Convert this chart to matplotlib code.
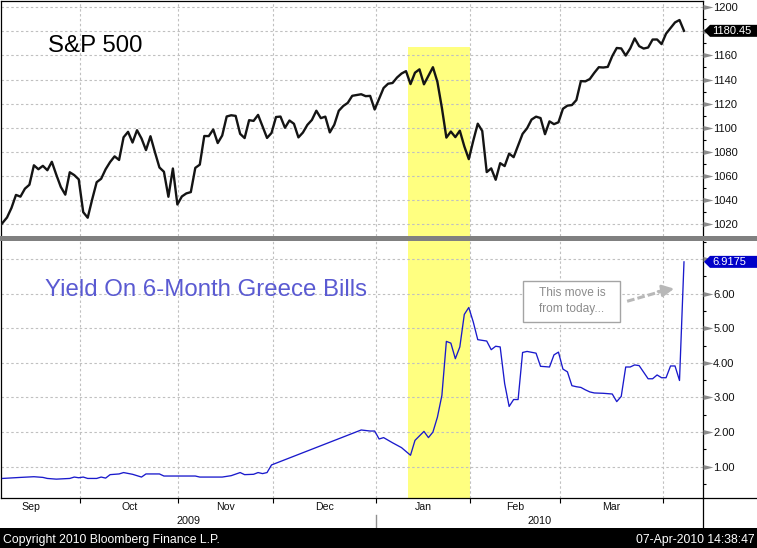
import numpy as np
import pandas as pd
import matplotlib
matplotlib.use("Agg")
import matplotlib.pyplot as plt
from matplotlib.patches import Polygon, Rectangle
from matplotlib.lines import Line2D
from matplotlib.ticker import MultipleLocator, FuncFormatter
from matplotlib.transforms import IdentityTransform

plt.rcParams['font.family'] = ['Liberation Sans', 'DejaVu Sans']

# ---- data -------------------------------------------------------------
BASE_DAY = "2009-09-07"   # first weekday slot on the chart's x axis

US_HOLIDAYS = ["2009-09-07", "2009-11-26", "2009-12-25", "2010-01-01",
               "2010-01-18", "2010-02-15", "2010-04-02"]
sp_dates = pd.bdate_range("2009-09-04", "2010-04-07").drop(pd.to_datetime(US_HOLIDAYS))

sp_close = [
    1016.40,
    # Sep
    1025.39, 1033.37, 1044.14, 1042.73, 1049.34, 1052.63, 1068.76, 1065.49, 1068.30,
    1064.66, 1071.66, 1060.87, 1050.78, 1044.38, 1062.98, 1060.61, 1057.08,
    # Oct
    1029.85, 1025.21, 1040.46, 1054.72, 1057.58, 1065.48, 1071.49, 1076.19, 1073.19,
    1092.02, 1096.56, 1087.68, 1097.91, 1091.06, 1081.40, 1092.91, 1079.60, 1066.95,
    1063.41, 1042.63, 1066.11, 1036.19,
    # Nov
    1042.88, 1045.41, 1046.50, 1066.63, 1069.30, 1093.08, 1093.01, 1098.51, 1087.24,
    1093.48, 1109.30, 1110.32, 1109.80, 1094.90, 1091.38, 1106.24, 1105.65, 1110.63,
    1091.49, 1095.63,
    # Dec
    1108.86, 1109.24, 1099.92, 1105.98, 1103.25, 1091.94, 1095.95, 1102.35, 1106.41,
    1114.11, 1107.93, 1109.18, 1096.08, 1102.47, 1114.05, 1118.02, 1120.59, 1126.48,
    1127.78, 1126.20, 1126.42, 1115.10,
    # Jan
    1132.99, 1136.52, 1137.14, 1141.69, 1144.98, 1146.98, 1136.22, 1145.68, 1148.46,
    1136.03, 1150.23, 1138.04, 1116.48, 1091.76, 1096.78, 1092.17, 1097.50, 1084.53,
    1073.87,
    # Feb
    1089.19, 1103.32, 1097.28, 1063.11, 1066.19, 1056.74, 1070.52, 1068.13, 1078.47,
    1075.51, 1094.87, 1099.51, 1106.75, 1109.17, 1108.01, 1094.60, 1105.24, 1102.94,
    1104.49,
    # Mar
    1115.71, 1118.31, 1118.79, 1122.97, 1138.70, 1138.50, 1140.45, 1145.61, 1150.24,
    1149.99, 1150.51, 1159.46, 1166.21, 1165.83, 1159.90, 1165.81, 1174.17, 1167.72,
    1165.73, 1166.59, 1173.22, 1173.27, 1169.43,
    # Apr
    1178.10, 1187.44, 1189.44, 1180.45,
]

greece_dates = [
    "2009-09-07", "2009-09-11", "2009-09-16", "2009-09-18", "2009-09-21", "2009-09-23",
    "2009-09-28", "2009-09-29", "2009-09-30", "2009-10-01", "2009-10-02", "2009-10-06",
    "2009-10-07", "2009-10-08", "2009-10-09", "2009-10-13", "2009-10-14", "2009-10-16",
    "2009-10-20", "2009-10-21", "2009-10-26", "2009-10-27", "2009-11-05", "2009-11-06",
    "2009-11-13", "2009-11-17", "2009-11-19", "2009-11-20", "2009-11-24", "2009-11-25",
    "2009-11-26", "2009-11-27", "2009-11-30",
    "2009-12-28", "2009-12-30", "2009-12-31", "2010-01-01", "2010-01-04", "2010-01-06",
    "2010-01-08", "2010-01-12", "2010-01-13", "2010-01-15", "2010-01-18", "2010-01-19",
    "2010-01-20", "2010-01-21", "2010-01-22", "2010-01-25", "2010-01-26", "2010-01-27",
    "2010-01-28", "2010-01-29", "2010-02-01", "2010-02-02", "2010-02-04", "2010-02-05",
    "2010-02-08", "2010-02-09", "2010-02-10", "2010-02-11", "2010-02-12", "2010-02-15",
    "2010-02-16", "2010-02-17", "2010-02-19", "2010-02-22", "2010-02-24", "2010-02-25",
    "2010-02-26", "2010-03-01", "2010-03-02", "2010-03-03", "2010-03-04", "2010-03-05",
    "2010-03-08", "2010-03-09", "2010-03-10", "2010-03-12", "2010-03-16", "2010-03-17",
    "2010-03-18", "2010-03-19", "2010-03-22", "2010-03-23", "2010-03-24", "2010-03-26",
    "2010-03-29", "2010-03-30", "2010-03-31", "2010-04-01", "2010-04-02", "2010-04-05",
    "2010-04-06", "2010-04-07",
]
greece_yield = [
    0.66, 0.69, 0.71, 0.69, 0.66, 0.64, 0.66, 0.70, 0.68, 0.70, 0.66, 0.66, 0.70, 0.67,
    0.77, 0.79, 0.83, 0.78, 0.70, 0.79, 0.79, 0.73, 0.73, 0.70, 0.70, 0.74, 0.83, 0.77,
    0.78, 0.83, 0.80, 0.83, 1.05,
    2.06, 2.03, 2.03, 1.80, 1.84, 1.69, 1.55, 1.33, 1.76, 2.02, 1.84, 2.00, 2.43, 3.06,
    4.62, 4.57, 4.12, 4.46, 5.40, 5.60, 5.18, 4.67, 4.63, 4.38, 4.48, 4.46, 3.40, 2.74,
    2.94, 2.94, 4.30, 4.33, 4.28, 3.90, 3.88, 4.23, 4.31, 3.82, 3.74, 3.34, 3.31, 3.29,
    3.22, 3.16, 3.13, 3.12, 3.10, 2.88, 3.03, 3.88, 3.88, 3.94, 3.92, 3.54, 3.54, 3.65,
    3.57, 3.57, 3.91, 3.91, 3.49, 6.9175,
]

month_names = ["Sep", "Oct", "Nov", "Dec", "Jan", "Feb", "Mar"]
month_starts = ["2009-09-01", "2009-10-01", "2009-11-01", "2009-12-01",
                "2010-01-01", "2010-02-01", "2010-03-01", "2010-04-01"]
highlight = ("2010-01-11", "2010-01-29")

sp_ticks = list(range(1020, 1201, 20))
gr_ticks = [1, 2, 3, 4, 5, 6, 7]

assert len(sp_close) == len(sp_dates)
assert len(greece_dates) == len(greece_yield)


def day_pos(dates):
    d = pd.to_datetime(dates).values.astype("datetime64[D]")
    return np.busday_count(np.datetime64(BASE_DAY), d)


# ---- layout (pixels) --------------------------------------------------
W, H = 757, 548
fig = plt.figure(figsize=(W / 100, H / 100), dpi=100)
fig.patch.set_facecolor("white")


def px_box(left, top, right, bottom):
    return [left / W, 1 - bottom / H, (right - left) / W, (bottom - top) / H]


ax_sp = fig.add_axes(px_box(0.5, 0.5, 703, 236))
ax_gr = fig.add_axes(px_box(0.5, 240.5, 703, 498))

x_min, x_max = -0.45, 156.24
bounds = day_pos(month_starts) - 0.75
grid_kw = dict(color="#c0c0c0", linestyle=(0, (2.2, 2.2)), linewidth=0.8)

# ---- S&P panel --------------------------------------------------------
hl0 = day_pos([highlight[0]])[0] + 0.5
hl1 = day_pos([highlight[1]])[0] + 0.2

ax_sp.axvspan(hl0, hl1, ymin=0, ymax=0.803, color="#ffff80", lw=0, zorder=0.2)
ax_sp.plot(day_pos(sp_dates), sp_close, color="#141414", lw=1.7, zorder=3)
ax_sp.set_xlim(x_min, x_max)
ax_sp.set_ylim(1010.03, 1205.65)
ax_sp.set_yticks(sp_ticks)
ax_sp.yaxis.set_minor_locator(MultipleLocator(10))
ax_sp.yaxis.set_major_formatter(FuncFormatter(lambda v, p: "" if v == 1180 else f"{v:.0f}"))
ax_sp.set_xticks(bounds[1:])
ax_sp.tick_params(axis="x", length=0, labelbottom=False)
ax_sp.spines["bottom"].set_visible(False)
ax_sp.text(0.067, 0.782, "S&P 500", transform=ax_sp.transAxes, fontsize=17.3,
           color="black", va="baseline", ha="left")

# ---- Greece panel -----------------------------------------------------
ax_gr.axvspan(hl0, hl1, color="#ffff80", lw=0, zorder=0.2)
ax_gr.plot(day_pos(greece_dates), greece_yield, color="#1a1acc", lw=0.95, zorder=3)
ax_gr.set_xlim(x_min, x_max)
ax_gr.set_ylim(0.095, 7.535)
ax_gr.set_yticks(gr_ticks)
ax_gr.yaxis.set_minor_locator(MultipleLocator(0.5))
ax_gr.yaxis.set_major_formatter(FuncFormatter(lambda v, p: "" if v == 7 else f"{v:.2f}"))
ax_gr.set_xticks(bounds[1:])
ax_gr.tick_params(axis="x", length=3.6, width=0.8, direction="out", color="black",
                  labelbottom=False)
ax_gr.spines["top"].set_visible(False)
ax_gr.text(0.0627, 0.783, "Yield On 6-Month Greece Bills", transform=ax_gr.transAxes,
           fontsize=17.3, color="#5a5ad2", va="baseline", ha="left")

# annotation box + dashed arrow
ax_gr.add_patch(Rectangle((0.744, 0.685), 0.138, 0.1566, transform=ax_gr.transAxes,
                          facecolor="white", edgecolor="#a4a4a4", lw=1.0, zorder=4))
ax_gr.text(0.8135, 0.795, "This move is", transform=ax_gr.transAxes, ha="center",
           va="center", fontsize=8.6, color="#8c8c8c", zorder=5)
ax_gr.text(0.8135, 0.7354, "from today...", transform=ax_gr.transAxes, ha="center",
           va="center", fontsize=8.6, color="#8c8c8c", zorder=5)
arr_start, arr_mid, arr_end = (0.892, 0.764), (0.946, 0.8065), (0.959, 0.813)
ax_gr.plot([arr_start[0], arr_mid[0]], [arr_start[1], arr_mid[1]], transform=ax_gr.transAxes,
           color="#b8b8b8", lw=2.2, linestyle=(0, (2.5, 1.0)), solid_capstyle="butt", zorder=5)
ax_gr.annotate("", xy=arr_end, xytext=(0.936, 0.802), xycoords="axes fraction",
               textcoords="axes fraction",
               arrowprops=dict(arrowstyle="-|>,head_length=0.7,head_width=0.35",
                               color="#b8b8b8", lw=2.0, shrinkA=0, shrinkB=0), zorder=5)

# ---- shared styling ---------------------------------------------------
tri = [(-1, 0.5), (-1, -0.5), (1, 0), (-1, 0.5)]
for ax, ticks in ((ax_sp, sp_ticks), (ax_gr, gr_ticks)):
    ax.set_axisbelow(True)
    ax.grid(True, which="major", **grid_kw)
    ax.yaxis.tick_right()
    ax.tick_params(axis="y", which="major", length=0, pad=7.3, labelsize=8.0,
                   labelcolor="#101010")
    ax.tick_params(axis="y", which="minor", length=2.4, width=0.8, color="black",
                   direction="out")
    for sp in ax.spines.values():
        sp.set_color("black")
        sp.set_linewidth(0.9)
    ax.plot(np.full(len(ticks), 1 + 5.0 / 702), ticks, linestyle="none", marker=tri,
            markersize=7.2, color="#8c8c8c", mec="none",
            transform=ax.get_yaxis_transform(), clip_on=False, zorder=6)

# month & year labels under the lower panel
xt = ax_gr.get_xaxis_transform()
for name, b0, b1 in zip(month_names, bounds[:-1], bounds[1:]):
    ax_gr.text((b0 + b1) / 2, -8.7 / 257.5, name, transform=xt, ha="center",
               va="center", fontsize=7.6, color="#101010")
jan_b = bounds[4]
ax_gr.text((x_min + jan_b) / 2, -23 / 257.5, "2009", transform=xt, ha="center",
           va="center", fontsize=7.8, color="#101010")
ax_gr.text((jan_b + x_max) / 2, -23 / 257.5, "2010", transform=xt, ha="center",
           va="center", fontsize=7.8, color="#101010")
ax_gr.add_line(Line2D([jan_b, jan_b], [-17 / 257.5, -29 / 257.5], transform=xt,
                      color="#909090", lw=1.0, clip_on=False))

# separator bar, frame lines, footer
fig.add_artist(Rectangle((0, 1 - 240.5 / H), 1, 4.5 / H, transform=fig.transFigure,
                         facecolor="#808080", edgecolor="none", zorder=3))
fig.add_artist(Line2D([703 / W, 703 / W], [1 - 498 / H, 1 - 528 / H],
                      transform=fig.transFigure, color="black", lw=0.9))
fig.add_artist(Line2D([703 / W, 1], [1 - 498 / H, 1 - 498 / H],
                      transform=fig.transFigure, color="black", lw=0.9))
fig.add_artist(Rectangle((0, 0), 1, 20 / H, transform=fig.transFigure,
                         facecolor="black", edgecolor="none", zorder=3))
fig.text(3 / W, (H - 542.5) / H, "Copyright 2010 Bloomberg Finance L.P.", color="white",
         fontsize=8.8, ha="left", va="baseline", zorder=4)
fig.text(755 / W, (H - 542.5) / H, "07-Apr-2010 14:38:47", color="white",
         fontsize=8.8, ha="right", va="baseline", zorder=4)


# last-value tags on the right axis
def value_tag(ax, value, label, color):
    xr = ax.transAxes.transform((1, 0))[0]
    y = ax.transData.transform((0, value))[1]
    pts = [(xr + 1, y), (xr + 7, y + 6), (W, y + 6), (W, y - 6), (xr + 7, y - 6)]
    fig.add_artist(Polygon(pts, closed=True, transform=IdentityTransform(),
                           facecolor=color, edgecolor="none", zorder=7))
    fig.text(xr + 9, y, label, transform=IdentityTransform(), color="white",
             fontsize=8.0, ha="left", va="center", zorder=8)


value_tag(ax_sp, sp_close[-1], f"{sp_close[-1]:.2f}", "black")
value_tag(ax_gr, greece_yield[-1], f"{greece_yield[-1]:.4f}", "#0000c8")

fig.savefig("out.png", dpi=100)
